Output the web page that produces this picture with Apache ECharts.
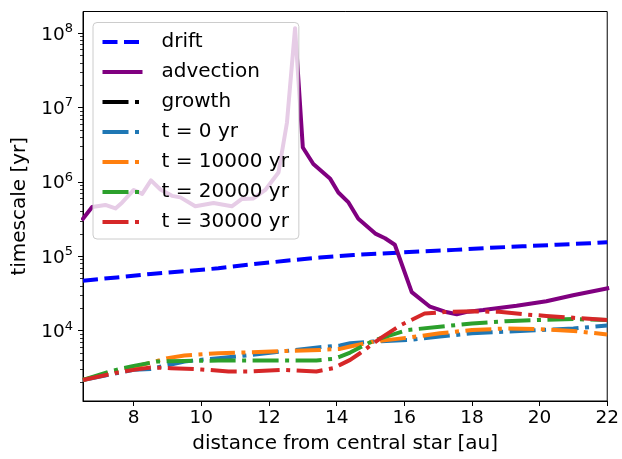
<!DOCTYPE html>
<html>
<head>
<meta charset="utf-8">
<script src="https://cdn.jsdelivr.net/npm/echarts@6/dist/echarts.min.js"></script>
<style>html,body{margin:0;padding:0;background:#fff}#c{width:622px;height:459px}</style>
</head>
<body>
<div id="c"></div>
<script>
// ---- data (timescale in yr vs distance in au) ----
var driftX = [6.5, 7.5, 8.5, 9.5, 10.5, 11.5, 12.5, 13.5, 14.5, 15.5, 16.5, 17.5, 18.5, 19.5, 20.5, 21.5, 22];
var driftY = [4.7e4, 5.2e4, 5.8e4, 6.3e4, 6.9e4, 7.8e4, 8.7e4, 9.6e4, 1.04e5, 1.1e5, 1.16e5, 1.22e5, 1.3e5, 1.36e5, 1.43e5, 1.5e5, 1.55e5];

var advX = [6.5, 6.77, 7.16, 7.46, 7.66, 8.0, 8.25, 8.51, 8.79, 9.13, 9.38, 9.82, 10.36, 10.9, 11.2, 11.54, 11.89, 12.28, 12.53, 12.77, 13.0, 13.31, 13.81, 14.05, 14.35, 14.64, 15.16, 15.43, 15.72, 16.22, 16.76, 17.2, 17.55, 17.89, 18.33, 19.32, 20.2, 20.99, 22];
var advY = [3.2e5, 4.6e5, 4.9e5, 4.4e5, 5.3e5, 7.8e5, 6.9e5, 1.05e6, 7.9e5, 6.5e5, 6.2e5, 4.7e5, 5.2e5, 4.7e5, 5.9e5, 6.0e5, 7.8e5, 1.34e6, 6.25e6, 1.17e8, 2.9e6, 1.74e6, 1.1e6, 7.2e5, 5.3e5, 3.2e5, 2.0e5, 1.75e5, 1.43e5, 3.3e4, 2.1e4, 1.8e4, 1.66e4, 1.8e4, 1.89e4, 2.16e4, 2.49e4, 3.0e4, 3.7e4];

var growthX = [];
var growthY = [];

var t0X = [6.5, 7.15, 8.0, 8.5, 9.5, 10.5, 11.5, 12.5, 13.5, 14.1, 14.4, 15.1, 16.1, 17.05, 18.0, 19.0, 20.0, 21.0, 22.0];
var t0Y = [2170, 2500, 2970, 3060, 3850, 4270, 4720, 5330, 5980, 6310, 6760, 7130, 7480, 8320, 9200, 9700, 10200, 10700, 11700];

var t1X = [6.5, 7.15, 8.0, 9.0, 9.5, 10.5, 11.5, 12.5, 13.5, 14.1, 14.4, 15.1, 16.1, 17.05, 18.0, 19.0, 20.0, 21.0, 22.0];
var t1Y = [2170, 2600, 3240, 4270, 4630, 4970, 5130, 5330, 5500, 5680, 6110, 7130, 8050, 9200, 10200, 10700, 10500, 9900, 8900];

var t2X = [6.5, 7.35, 8.0, 8.7, 9.5, 10.5, 11.5, 12.5, 13.4, 13.9, 14.1, 14.4, 15.1, 16.1, 17.05, 18.0, 19.0, 20.0, 21.0, 22.0];
var t2Y = [2170, 2880, 3360, 3850, 3920, 3960, 3980, 3980, 3980, 4170, 4470, 5080, 7410, 10200, 11300, 12500, 13400, 13900, 14300, 13900];

var t3X = [6.5, 7.45, 8.0, 8.5, 9.1, 10.0, 10.8, 11.5, 12.4, 13.4, 13.9, 14.1, 14.4, 14.7, 15.3, 15.9, 16.6, 17.25, 18.05, 18.8, 19.6, 20.2, 21.0, 22.0];
var t3Y = [2170, 2690, 2970, 3200, 3130, 3010, 2830, 2830, 2970, 2830, 3130, 3470, 4040, 5010, 7940, 11900, 17000, 17900, 18200, 17900, 16500, 15800, 14900, 13900];

var xTicks = [8, 10, 12, 14, 16, 18, 20, 22];
var yDecades = [4, 5, 6, 7, 8];

var seriesNames = ['drift', 'advection', 'growth', 't = 0 yr', 't = 10000 yr', 't = 20000 yr', 't = 30000 yr'];

// ---- helpers ----
function pairs(xs, ys) {
  return xs.map(function (x, i) { return [x, Math.log10(ys[i])]; });
}
var yMin = 3.054, yMax = 8.292;
var minorTicks = [];
for (var n = 3; n <= 8; n++) {
  for (var k = 2; k <= 9; k++) {
    var v = Math.log10(k) + n;
    if (v >= yMin && v <= yMax) minorTicks.push(v);
  }
}
var FONT = 'DejaVu Sans';
var dashDot = [26, 6.5, 4, 6.5];
var dashed = [15, 6.5];

function lineSeries(name, data, color, type, z) {
  return {
    name: name,
    type: 'line',
    data: data,
    symbol: 'none',
    showSymbol: false,
    z: z,
    color: color,
    itemStyle: { color: color },
    lineStyle: { color: color, width: 4, type: type, cap: type === 'solid' ? 'square' : 'butt', join: 'round' },
    emphasis: { disabled: true },
    clip: true
  };
}

var chart = echarts.init(document.getElementById('c'), null, { renderer: 'canvas' });
chart.setOption({
  animation: false,
  backgroundColor: '#ffffff',
  grid: { left: 83, right: 14, top: 11.5, bottom: 56, show: true, borderColor: '#000', borderWidth: 1, backgroundColor: 'transparent' },
  xAxis: {
    type: 'value', min: 6.5, max: 22,
    name: 'distance from central star [au]', nameLocation: 'middle', nameGap: 33,
    nameTextStyle: { fontFamily: FONT, fontSize: 20, color: '#000' },
    axisLine: { show: true, onZero: false, lineStyle: { color: '#000', width: 1 } },
    axisTick: { show: true, inside: false, length: 5, customValues: xTicks, lineStyle: { color: '#000', width: 1 } },
    axisLabel: { customValues: xTicks, margin: 8, fontFamily: FONT, fontSize: 18.5, color: '#000' },
    splitLine: { show: false }
  },
  yAxis: [{
    type: 'value', min: yMin, max: yMax, position: 'left',
    name: 'timescale [yr]', nameLocation: 'middle', nameGap: 48, nameRotate: 90,
    nameTextStyle: { fontFamily: FONT, fontSize: 20, color: '#000' },
    axisLine: { show: true, onZero: false, lineStyle: { color: '#000', width: 1 } },
    axisTick: { show: true, length: 5, customValues: yDecades, lineStyle: { color: '#000', width: 1 } },
    axisLabel: {
      customValues: yDecades, margin: 10, color: '#000',
      formatter: function (v) { return '{a|10}{b|' + Math.round(v) + '}'; },
      rich: {
        a: { fontFamily: FONT, fontSize: 18.5, color: '#000', verticalAlign: 'bottom' },
        b: { fontFamily: FONT, fontSize: 13, color: '#000', verticalAlign: 'bottom', padding: [0, 0, 9, 0] }
      }
    },
    splitLine: { show: false }
  }, {
    type: 'value', min: yMin, max: yMax, position: 'left', offset: 0,
    axisLine: { show: false },
    axisTick: { show: true, length: 3, customValues: minorTicks, lineStyle: { color: '#000', width: 0.8 } },
    axisLabel: { show: false },
    splitLine: { show: false }
  }],
  legend: {
    orient: 'vertical', left: 93, top: 22.5,
    data: seriesNames,
    itemWidth: 40, itemHeight: 14, itemGap: 10,
    padding: [9.5, 10, 7, 7.5],
    backgroundColor: 'rgba(255,255,255,0.8)',
    borderColor: '#cccccc', borderWidth: 1, borderRadius: 4,
    textStyle: { fontFamily: FONT, fontSize: 20, color: '#000', lineHeight: 20, padding: [0, 0, 0, 14] },
    itemStyle: { color: 'rgba(0,0,0,0)', borderWidth: 0, opacity: 0 },
    lineStyle: { width: 4, cap: 'butt' },
    selectedMode: false,
    z: 10
  },
  series: [
    lineSeries('drift', pairs(driftX, driftY), '#0000ff', dashed, 2),
    lineSeries('advection', pairs(advX, advY), '#800080', 'solid', 3),
    lineSeries('growth', pairs(growthX, growthY), '#000000', dashDot, 4),
    lineSeries('t = 0 yr', pairs(t0X, t0Y), '#1f77b4', dashDot, 5),
    lineSeries('t = 10000 yr', pairs(t1X, t1Y), '#ff7f0e', dashDot, 6),
    lineSeries('t = 20000 yr', pairs(t2X, t2Y), '#2ca02c', dashDot, 7),
    lineSeries('t = 30000 yr', pairs(t3X, t3Y), '#d62728', dashDot, 8)
  ]
});
</script>
</body>
</html>
